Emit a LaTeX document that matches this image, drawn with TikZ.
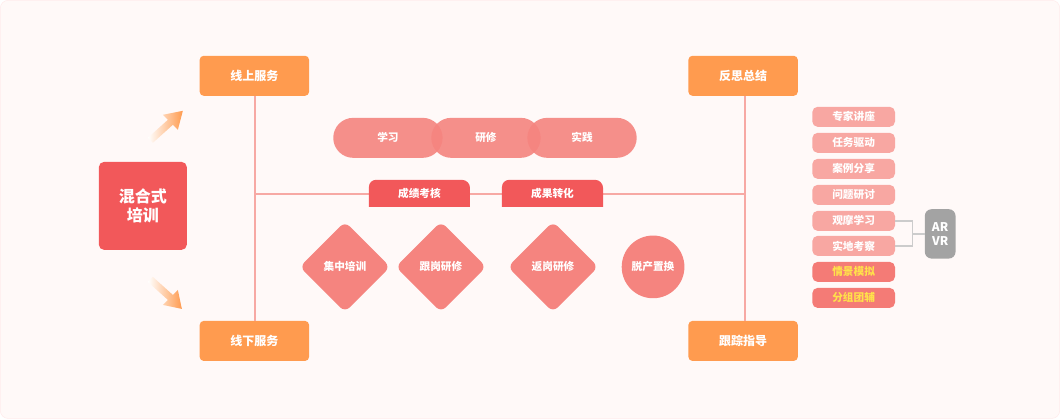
\documentclass[tikz,border=0pt]{standalone}
\usepackage{fontspec}
\setmainfont{Noto Sans CJK SC}
\usetikzlibrary{positioning,shapes.geometric,arrows.meta}
\definecolor{bgc}{HTML}{FFF9F8}
\definecolor{orangec}{HTML}{FF9B4F}
\definecolor{redc}{HTML}{F2585A}
\definecolor{pinkc}{HTML}{F5847F}
\definecolor{linec}{HTML}{F7A9A4}
\definecolor{listc}{HTML}{F8A7A2}
\definecolor{listd}{HTML}{F47B76}
\definecolor{yelc}{HTML}{FFE14A}
\definecolor{grayc}{HTML}{A3A3A3}
\tikzset{
  svcbox/.style={fill=orangec, rounded corners=3pt, minimum width=82pt, minimum height=30pt, text=white, font=\bfseries\small},
  pill/.style={fill=pinkc, fill opacity=.9, text opacity=1, rounded corners=15pt, minimum width=82pt, minimum height=30pt, text=white, font=\bfseries\footnotesize},
  dia/.style={diamond, fill=pinkc, rounded corners=5pt, minimum width=68pt, minimum height=68pt, inner sep=0pt, text=white, font=\bfseries\footnotesize},
  item/.style={fill=listc, rounded corners=4pt, minimum width=62pt, minimum height=15pt, inner sep=0pt, text=white, font=\bfseries\footnotesize},
  conn/.style={draw=linec, line width=1pt},
}
\begin{document}
\begin{tikzpicture}[x=0.75pt, y=-0.75pt]
  \path[use as bounding box, fill=bgc, draw=red!8, rounded corners=6pt] (0.5,0.5) rectangle (1059.5,418.5);
  % services
  \node[svcbox] (on)  at (254.5,76)  {线上服务};
  \node[svcbox] (off) at (254.5,341) {线下服务};
  \node[svcbox] (ref) at (743,76)    {反思总结};
  \node[svcbox] (trk) at (743,341)   {跟踪指导};
  \draw[conn] (255,96) -- (255,321);
  \draw[conn] (745,96) -- (745,321);
  \draw[conn] (255,194) -- (745,194);
  % core
  \node[fill=redc, rounded corners=4pt, minimum width=66pt, minimum height=66pt, text=white, font=\bfseries\large, align=center] (mix) at (143,206) {混合式\\培训};
  \shade[left color=orangec!0, right color=orangec] (148,138) -- (168,120) -- (163,115) -- (183,111) -- (178,130) -- (173,125) -- (153,143) -- cycle;
  \shade[left color=orangec!0, right color=orangec] (148,282) -- (168,300) -- (163,305) -- (182,309) -- (178,290) -- (173,295) -- (153,277) -- cycle;
  % pills
  \node[pill] (learn) at (388,138) {学习};
  \node[pill] (study) at (486,138) {研修};
  \node[pill] (prac)  at (582,138) {实践};
  % tabs
  \foreach \x/\t/\n in {369/成绩考核/score, 502/成果转化/trans}{
    \fill[redc] (\x,207) -- (\x,187) arc[start angle=180, end angle=90, x radius=7, y radius=-7] -- (\x+93,180) arc[start angle=90, end angle=0, x radius=8, y radius=-8] -- (\x+101,207) -- cycle;
    \node[text=white, font=\bfseries\footnotesize] (\n) at (\x+50.5,193.5) {\t};
  }
  % modes
  \node[dia] (d1) at (345,267) {集中培训};
  \node[dia] (d2) at (441,267) {跟岗研修};
  \node[dia] (d3) at (553,267) {返岗研修};
  \node[circle, fill=pinkc, minimum size=47pt, inner sep=0pt, text=white, font=\bfseries\footnotesize] (c1) at (653,267) {脱产置换};
  % list
  \foreach \y/\t/\n in {117/专家讲座/l1, 143/任务驱动/l2, 169/案例分享/l3, 195/问题研讨/l4, 221/观摩学习/l5, 246/实地考察/l6}{
    \node[item] (\n) at (853.5,\y) {\t};
  }
  \node[item, fill=listd, text=yelc] (l7) at (853.5,272) {情景模拟};
  \node[item, fill=listd, text=yelc] (l8) at (853.5,298) {分组团辅};
  \node[fill=grayc, rounded corners=5pt, minimum width=23pt, minimum height=37pt, inner sep=0pt, text=white, font=\bfseries\small, align=center] (arvr) at (940,234) {AR\\VR};
  \draw[gray!40, line width=1pt] (l5.east) -| (912,234) |- (l6.east);
  \draw[gray!40, line width=1pt] (912,234) -- (arvr.west);
\end{tikzpicture}
\end{document}
